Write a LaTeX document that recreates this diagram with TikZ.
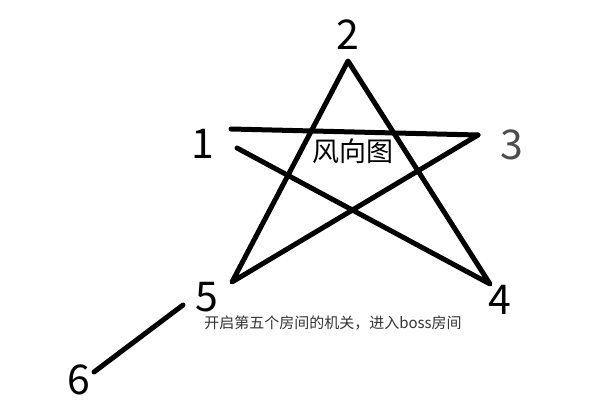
\documentclass[tikz,border=0pt]{standalone}
\usepackage{fontspec}
\setmainfont{Noto Sans CJK SC}
\usetikzlibrary{positioning}

\begin{document}
\begin{tikzpicture}[x=1pt, y=-1pt,
    num/.style={font=\fontsize{41}{41}\selectfont, inner sep=0},
    stroke/.style={line width=5pt, line cap=round, line join=round}]
      \useasboundingbox (0,0) rectangle (600,400);

      % star corners
      \coordinate (c1a) at (231,129);
      \coordinate (c1b) at (237,148);
      \coordinate (c2) at (348,61);
      \coordinate (c3) at (478,135);
      \coordinate (c4) at (490,284);
      \coordinate (c5) at (232,282);
      \coordinate (c6a) at (183,305);
      \coordinate (c6b) at (94,372);

      \draw[stroke] (c1a) -- (c3);
      \draw[stroke] (c3) -- (c5) -- (c2) -- (c4) -- (c1b);
      \draw[stroke] (c6a) -- (c6b);

      % labels
      \node[num] (n1) at (203,144) {1};
      \node[num] (n2) at (348,35) {2};
      \node[num, text=black!70] (n3) at (512,145) {3};
      \node[num] (n4) at (500,300) {4};
      \node[num] (n5) at (207,297) {5};
      \node[num] (n6) at (79,380) {6};

      \node[font=\fontsize{27}{27}\selectfont, inner sep=0] (title) at (353,151) {风向图};
      \node[font=\fontsize{15}{15}\selectfont, text=black!80, inner sep=0] (note) at (333,323) {开启第五个房间的机关，进入boss房间};
\end{tikzpicture}
\end{document}
